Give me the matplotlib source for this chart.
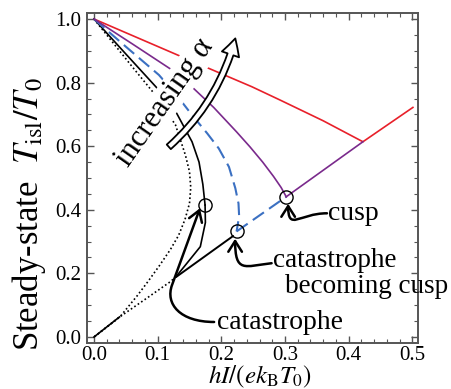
import matplotlib
matplotlib.use("Agg")
import matplotlib.pyplot as plt
from matplotlib.patches import FancyArrowPatch, ArrowStyle
from matplotlib.path import Path
from matplotlib.ticker import MultipleLocator

plt.rcParams['font.family'] = ['Liberation Serif', 'DejaVu Serif']
plt.rcParams['mathtext.fontset'] = 'stix'

# ---------------- data ----------------
# dotted curve (upper + lower branch)
dot_x = [0.0, 0.06, 0.0964, 0.128, 0.1436, 0.150, 0.152, 0.150, 0.143, 0.133, 0.120, 0.103, 0.085, 0.068, 0.041, 0.0]
dot_y = [1.0, 0.85, 0.761, 0.667, 0.572, 0.52, 0.47, 0.42, 0.37, 0.32, 0.275, 0.225, 0.175, 0.13, 0.064, 0.0]

# black solid curve: upper branch to catastrophe, then lower branch
blk_up_x = [0.0, 0.05, 0.104, 0.130, 0.154, 0.165, 0.171, 0.1745]
blk_up_y = [1.0, 0.89, 0.772, 0.703, 0.614, 0.55, 0.48, 0.415]
blk_lo_x = [0.1745, 0.175, 0.167, 0.146, 0.129]
blk_lo_y = [0.415, 0.36, 0.284, 0.232, 0.19]
blk_lo_dot_x = [0.129, 0.12, 0.08, 0.041, 0.0]
blk_lo_dot_y = [0.19, 0.174, 0.118, 0.064, 0.0]
blk_origin_x = [0.0, 0.04]
blk_origin_y = [0.0, 0.063]

# blue dashed curve
blue_x = [0.0, 0.05, 0.102, 0.13, 0.154, 0.178, 0.196, 0.212, 0.222, 0.227, 0.228, 0.224]
blue_y = [1.0, 0.913, 0.824, 0.76, 0.698, 0.64, 0.593, 0.535, 0.468, 0.42, 0.38, 0.332]
blue_seg_x = [0.224, 0.302]
blue_seg_y = [0.332, 0.441]

# purple curve
pur_x = [0.0, 0.06, 0.12, 0.151, 0.188, 0.224, 0.245, 0.265, 0.282, 0.294, 0.302]
pur_y = [1.0, 0.922, 0.843, 0.792, 0.722, 0.645, 0.598, 0.55, 0.505, 0.47, 0.441]
pur_seg_x = [0.302, 0.4225]
pur_seg_y = [0.441, 0.614]

# red curve
red_x = [0.0, 0.138, 0.248, 0.2925, 0.36, 0.4225, 0.501]
red_y = [1.0, 0.881, 0.787, 0.745, 0.68, 0.614, 0.722]

# special points
circ_x = [0.1745, 0.224, 0.302]
circ_y = [0.415, 0.332, 0.441]

x_ticks = [0.0, 0.1, 0.2, 0.3, 0.4, 0.5]
y_ticks = [0.0, 0.2, 0.4, 0.6, 0.8, 1.0]

RED = '#e8202a'
PURPLE = '#7a2a8c'
BLUE = '#3b70c2'

fig = plt.figure(figsize=(4.51, 3.89), dpi=100)
ax = fig.add_axes([87/451, 1-343/389, 331/451, 330/389])
ax.set_xlim(-0.011, 0.509)
ax.set_ylim(-0.0189, 1.0189)

lw = 1.2
ax.plot(dot_x, dot_y, color='black', lw=1.2, ls=(0, (1, 1.5)), zorder=2)
ax.plot(blk_up_x, blk_up_y, color='black', lw=lw, zorder=2)
ax.plot(blk_lo_x, blk_lo_y, color='black', lw=lw, zorder=2)
ax.plot(blk_lo_dot_x, blk_lo_dot_y, color='black', lw=1.2, ls=(0, (1, 1.5)), zorder=2)
ax.plot(blk_origin_x, blk_origin_y, color='black', lw=lw, zorder=2)
ax.plot(blue_x, blue_y, color=BLUE, lw=1.5, ls=(0, (6.5, 3)), zorder=2)
ax.plot(blue_seg_x, blue_seg_y, color=BLUE, lw=1.5, ls=(0, (6.5, 3)), zorder=2)
ax.plot(pur_x, pur_y, color=PURPLE, lw=lw, zorder=2)
ax.plot(pur_seg_x, pur_seg_y, color=PURPLE, lw=lw, zorder=2)
ax.plot(red_x, red_y, color=RED, lw=lw, zorder=1.9)

ax.plot(circ_x, circ_y, ls='none', marker='o', ms=9.5, mfc='none', mec='black', mew=1.0, zorder=3)

# ---------------- axes styling ----------------
ax.set_xticks(x_ticks)
ax.set_yticks(y_ticks)
ax.set_xticklabels([f"{v:.1f}" for v in x_ticks])
ax.set_yticklabels([f"{v:.1f}" for v in y_ticks])
ax.xaxis.set_minor_locator(MultipleLocator(0.02))
ax.yaxis.set_minor_locator(MultipleLocator(0.05))
gray = '#555555'
for s in ax.spines.values():
    s.set_color(gray)
    s.set_linewidth(1.4)
ax.tick_params(which='both', direction='in', top=True, right=True, color=gray, labelsize=15)
ax.tick_params(which='major', length=5, width=1.0)
ax.tick_params(which='minor', length=3, width=0.8)
ax.tick_params(axis='x', pad=2)
ax.tick_params(axis='y', pad=4)

ax.set_xlabel(r"$hI/(ek_{\rm B}T_0)$", fontsize=18)
ax.xaxis.set_label_coords((260-87)/331, -0.062)
ax.xaxis.label.set_va('top')
fig.text(29/451, 1-214/389, r"Steady-state  $T_{\rm isl}/T_0$", rotation=90,
         ha='center', va='center', fontsize=25)

# ---------------- annotations ----------------
def curly(points, codes, head=True, lw=1.8):
    p = Path(points, codes)
    style = ArrowStyle("->", head_length=0.55, head_width=0.35) if head else ArrowStyle("-")
    a = FancyArrowPatch(path=p, arrowstyle=style, mutation_scale=14,
                        color='black', lw=lw, zorder=4)
    ax.add_patch(a)

C4, MV, LT = Path.CURVE4, Path.MOVETO, Path.LINETO
# cusp
ax.text(0.368, 0.387, "cusp", fontsize=20, ha='left', va='center', zorder=6)
curly([(0.366, 0.389), (0.322, 0.389), (0.305, 0.33), (0.305, 0.419)], [MV, C4, C4, C4])
# catastrophe becoming cusp
ax.text(0.281, 0.240, "catastrophe", fontsize=19.5, ha='left', va='center', zorder=6)
ax.text(0.300, 0.160, "becoming cusp", fontsize=19.5, ha='left', va='center', zorder=6)
curly([(0.279, 0.232), (0.236, 0.222), (0.2217, 0.2), (0.2217, 0.309)], [MV, C4, C4, C4])
# catastrophe
ax.text(0.194, 0.047, "catastrophe", fontsize=20, ha='left', va='center', zorder=6)
curly([(0.1887, 0.0472), (0.1352, 0.0472), (0.1116, 0.1038), (0.1226, 0.1635), (0.1665, 0.405)],
      [MV, C4, C4, C4, LT])
curly([(0.129, 0.1887), (0.2186, 0.3176)], [MV, LT], head=False, lw=1.4)

# increasing alpha
ax.text(0.112, 0.738, "increasing α", fontsize=22, rotation=55, ha='center', va='center',
        zorder=6, bbox=dict(fc='white', ec='none', pad=0.5))
big = FancyArrowPatch(posA=(0.1175, 0.598), posB=(0.222, 0.939),
                      arrowstyle=ArrowStyle("simple", head_length=0.6, head_width=0.65, tail_width=0.22),
                      connectionstyle="arc3,rad=0.15", mutation_scale=20,
                      fc='white', ec='black', lw=1.3, zorder=5, shrinkA=0, shrinkB=0)
ax.add_patch(big)

fig.savefig("out.png", dpi=100)
